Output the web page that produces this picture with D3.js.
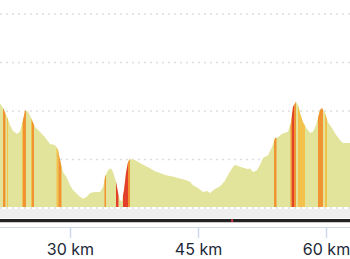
<!DOCTYPE html>
<html>
<head>
<meta charset="utf-8">
<script src="https://cdn.jsdelivr.net/npm/d3@7"></script>
<style>
  body { margin: 0; background: #fff; }
  svg { display: block; }
</style>
</head>
<body>
<script>
// profile: distance (km) and elevation (m)
var distKm = [21.80, 22.15, 22.62, 22.97, 23.32, 23.79, 24.14, 24.49, 24.73, 25.08, 25.55, 25.90,
  26.48, 27.07, 27.66, 28.24, 28.59, 28.83, 29.18, 29.65, 30.00, 30.35, 30.82, 31.17, 31.52,
  31.99, 32.34, 32.93, 33.52, 33.87, 34.10, 34.45, 34.80, 35.04, 35.39, 35.62, 35.86, 36.09,
  36.33, 36.56, 36.80, 37.03, 37.62, 38.20, 38.79, 39.38, 39.96, 40.55, 41.13, 41.72, 42.30,
  42.66, 43.48, 44.06, 44.41, 45.00, 45.59, 46.05, 46.41, 46.99, 47.58, 48.16, 48.52, 48.98,
  49.34, 49.92, 50.51, 50.86, 51.09, 51.45, 51.91, 52.27, 52.62, 53.20, 53.67, 54.02, 54.38,
  54.84, 55.20, 55.55, 55.90, 56.13, 56.48, 56.72, 56.95, 57.30, 57.77, 58.13, 58.48, 58.83,
  59.06, 59.30, 59.53, 59.88, 60.23, 60.70, 61.17, 61.64, 61.99, 62.34, 62.81];
var elevM = [316, 306, 288, 271, 259, 253, 257, 281, 301, 299, 281, 267,
  257, 246, 232, 230, 220, 199, 174, 162, 147, 137, 129, 123, 119,
  123, 131, 133, 133, 143, 164, 178, 182, 174, 154, 133, 116, 114,
  137, 172, 195, 201, 199, 193, 187, 182, 176, 172, 168, 166, 164,
  162, 158, 154, 147, 141, 133, 135, 131, 139, 145, 156, 168, 182,
  189, 185, 182, 180, 182, 174, 178, 189, 203, 209, 226, 244, 246,
  253, 255, 257, 277, 308, 319, 312, 296, 277, 263, 255, 257, 271,
  286, 302, 306, 296, 277, 265, 251, 240, 234, 234, 234];

// steep sections: start km, end km, class
var gradeStart = [22.15, 22.62, 24.38, 24.49, 25.43, 25.55, 28.42, 28.65, 34.04, 35.39, 36.21, 36.80,
  53.91, 55.84, 56.02, 56.25, 56.72, 59.06, 59.88];
var gradeEnd = [22.44, 22.74, 24.49, 24.84, 25.55, 25.78, 28.65, 29.00, 34.22, 35.68, 36.80, 37.03,
  54.20, 56.02, 56.25, 56.48, 57.54, 59.65, 60.12];
var gradeClass = ['o', 'y', 'y', 'o', 'y', 'o', 'y', 'o', 'o', 'r', 'r', 'o',
  'o', 'o', 'r', 'o', 'y', 'o', 'y'];

var gridElev = [100, 200, 300, 400, 500];
var tickKm = [30, 45, 60];
var markerKm = 49.0;

var width = 350, height = 259;
var colours = { y: '#f3c24c', o: '#ef9430', r: '#e2402a' };

var svg = d3.select('body').append('svg')
  .attr('width', width)
  .attr('height', height);

var x = d3.scaleLinear().domain([30, 60]).range([70, 326]);
var y = d3.scaleLinear().domain([100, 500]).range([208, 14]);

// dotted grid
svg.append('g').selectAll('line')
  .data(gridElev)
  .enter()
  .append('line')
  .attr('x1', 0)
  .attr('x2', width)
  .attr('y1', function(d){ return y(d) })
  .attr('y2', function(d){ return y(d) })
  .attr('stroke', '#dedede')
  .attr('stroke-width', 1.6)
  .attr('stroke-dasharray', '2 4');

var points = distKm.map(function(d, i){ return [d, elevM[i]] });

var area = d3.area()
  .x(function(d){ return x(d[0]) })
  .y0(207)
  .y1(function(d){ return y(d[1]) });

svg.append('clipPath').attr('id', 'profile')
  .append('path')
  .attr('d', area(points));

svg.append('path')
  .attr('d', area(points))
  .attr('fill', '#e3e49b');

svg.append('g')
  .attr('clip-path', 'url(#profile)')
  .selectAll('rect')
  .data(gradeStart)
  .enter()
  .append('rect')
  .attr('x', function(d){ return x(d) })
  .attr('width', function(d, i){ return x(gradeEnd[i]) - x(d) })
  .attr('y', 0)
  .attr('height', 208)
  .attr('fill', function(d, i){ return colours[gradeClass[i]] });

// scrub bar
svg.append('rect').attr('x', 0).attr('y', 209).attr('width', width).attr('height', 9).attr('fill', '#efefef');
svg.append('rect').attr('x', 0).attr('y', 219).attr('width', width).attr('height', 3).attr('fill', '#222');
svg.append('rect').attr('x', 0).attr('y', 222).attr('width', width).attr('height', 1).attr('fill', '#c9c9c9');
svg.append('rect')
  .attr('x', x(markerKm) - 1)
  .attr('y', 219)
  .attr('width', 2)
  .attr('height', 3)
  .attr('fill', '#c8304a');

// x axis
svg.append('line')
  .attr('x1', 0).attr('x2', width)
  .attr('y1', 227.5).attr('y2', 227.5)
  .attr('stroke', '#cfd8ea');

var axis = svg.append('g')
  .attr('transform', 'translate(0,228)')
  .call(d3.axisBottom(x)
    .tickValues(tickKm)
    .tickSize(10)
    .tickPadding(6)
    .tickFormat(function(d){ return d + ' km' }));

axis.select('.domain').remove();
axis.selectAll('.tick line').attr('stroke', '#cfd8ea').attr('stroke-width', 1.5);
axis.selectAll('.tick text')
  .attr('fill', '#1b2838')
  .attr('font-family', 'Inter, "Noto Sans", sans-serif')
  .attr('font-size', 16);
</script>
</body>
</html>
